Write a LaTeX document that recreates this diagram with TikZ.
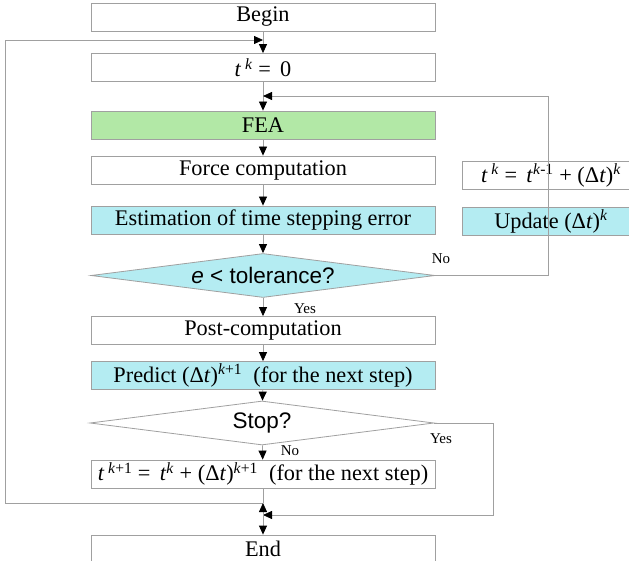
\documentclass[tikz,border=0pt]{standalone}
\usepackage{fontspec}
\setmainfont{Liberation Serif}
\setsansfont{Liberation Sans}
\usetikzlibrary{arrows.meta, positioning, shapes.geometric}

\definecolor{feagreen}{RGB}{178,232,166}
\definecolor{stepcyan}{RGB}{180,236,242}
\definecolor{linegray}{RGB}{160,160,160}

\newcommand{\tk}[1]{\textit{t}\,\textsuperscript{#1}}

\begin{document}
\begin{tikzpicture}[
    x=1pt, y=-1pt,
    >={Triangle[width=8pt,length=9pt,color=black]},
    stage/.style={draw=linegray, line width=0.8pt, minimum width=344pt,
                  minimum height=28pt, inner sep=0pt, align=center,
                  font=\fontsize{22.3}{25}\selectfont},
    fem/.style={stage, fill=feagreen},
    adapt/.style={stage, fill=stepcyan},
    check/.style={diamond, draw=linegray, line width=0.8pt, inner sep=0pt,
                  aspect=7.6, minimum width=344pt, minimum height=44pt,
                  font=\sffamily\fontsize{22.5}{25}\selectfont},
    flow/.style={draw=linegray, line width=0.8pt},
    lbl/.style={font=\fontsize{15}{17}\selectfont},
]
  \useasboundingbox[fill=white] (0,0) rectangle (629,561);

  % main column
  \node[stage] (begin) at (263,17) {Begin};
  \node[stage] (tzero) at (263,67.5) {\tk{\textit{k}} = \,0};
  \node[fem] (fea) at (263,125) {FEA};
  \node[stage] (force) at (263,170) {Force computation};
  \node[adapt] (esterr) at (263,220) {Estimation of time stepping error};
  \node[check, fill=stepcyan] (tolchk) at (263,275.5) {\textit{e} < tolerance?};
  \node[stage] (post) at (263,330.5) {Post-computation};
  \node[adapt] (predict) at (263,375.5)
    {Predict (Δ\textit{t})\textsuperscript{\textit{k}+1}\ \ (for the next step)};
  \node[check] (stopchk) at (262,423) {Stop?};
  \node[stage] (tnext) at (263,474)
    {\tk{\textit{k}+1} = \,\textit{t}\textsuperscript{\textit{k}} + (Δ\textit{t})\textsuperscript{\textit{k}+1}\ \ (for the next step)};
  \node[stage] (finish) at (263,549) {End};

  % side boxes
  \node[stage, minimum width=178pt] (tupdate) at (551,175.5)
    {\tk{\textit{k}} = \,\textit{t}\textsuperscript{\textit{k}-1} + (Δ\textit{t})\textsuperscript{\textit{k}}};
  \node[adapt, minimum width=178pt] (dtupdate) at (551,221.5)
    {Update (Δ\textit{t})\textsuperscript{\textit{k}}};

  \foreach \i/\j in {begin/tzero, tzero/fea, fea/force, force/esterr, esterr/tolchk,
                     tolchk/post, post/predict, predict/stopchk, stopchk/tnext}
    \draw[flow, ->] (\i) -- (\j);

  % loops
  \coordinate (retry) at (548,96);
  \coordinate (jA) at (263,503);
  \coordinate (jB) at (263,515);
  \coordinate (lowL) at (5,503);
  \coordinate (topL) at (5,40);
  \coordinate (yesR) at (493,515);

  \draw[flow, ->] (tolchk.east) -| (retry) -- (fea.north |- retry);
  \draw[flow] (tnext.south) -- (jA);
  \draw[flow, ->] (jA) -- (lowL) -- (topL) -- (tzero.north |- topL);
  \draw[flow, ->] (stopchk.east) -| (yesR) -- (jB);
  \draw[flow, ->] (jB) -- (jA);
  \draw[flow, ->] (jB) -- (finish.north);

  \node[lbl] (tolno) at (441,259) {No};
  \node[lbl] (tolyes) at (305,309) {Yes};
  \node[lbl] (stopyes) at (441,439) {Yes};
  \node[lbl] (stopno) at (290,451) {No};
\end{tikzpicture}
\end{document}
